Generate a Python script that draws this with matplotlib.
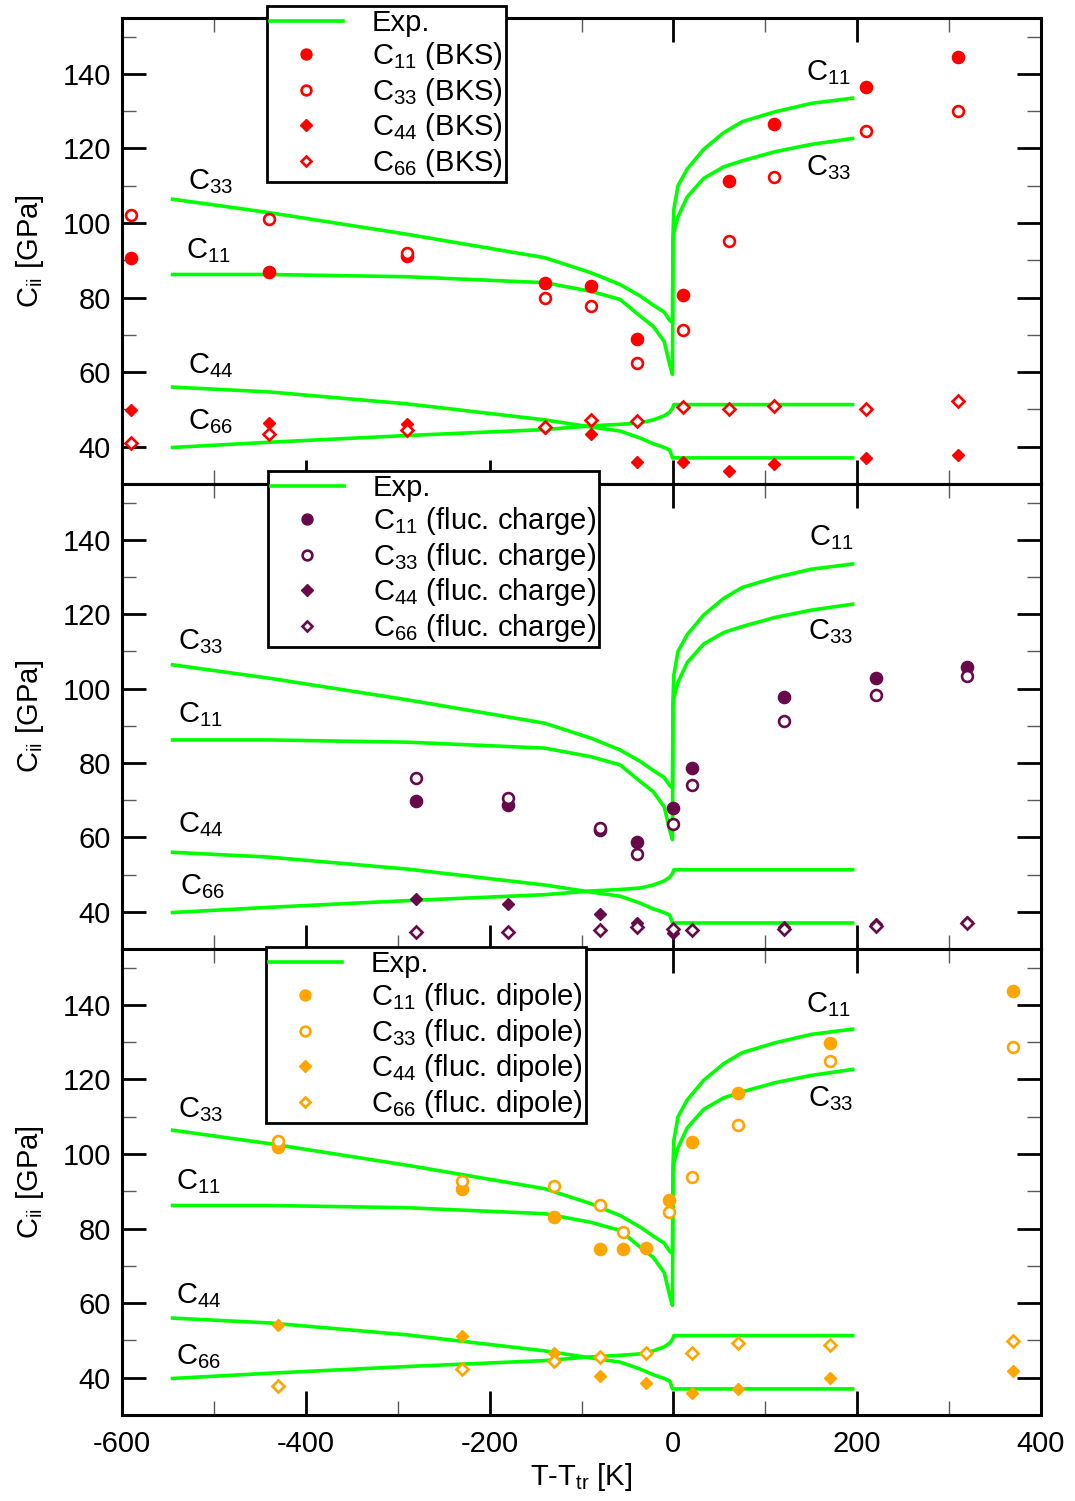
import numpy as np
import matplotlib
matplotlib.use("Agg")
import matplotlib.pyplot as plt
from matplotlib.lines import Line2D
from matplotlib.ticker import MultipleLocator

plt.rcParams['font.family'] = ['Liberation Sans', 'DejaVu Sans']
plt.rcParams['mathtext.fontset'] = 'custom'
plt.rcParams['mathtext.rm'] = 'Liberation Sans'
plt.rcParams['mathtext.it'] = 'Liberation Sans:italic'
plt.rcParams['mathtext.bf'] = 'Liberation Sans:bold'
plt.rcParams['axes.unicode_minus'] = False

# experimental curves (alpha phase, then beta phase)
T_exp = [-545, -440, -290, -140, -90, -58, -36, -22, -10, -4, -1,
         -0.5, 0.5, 5, 15, 33, 55, 75, 110, 150, 195]
C11_exp = [86.2, 86.2, 85.6, 84.0, 81.7, 79.5, 75.0, 72.3, 68.2, 62.0, 59.4,
           96.5, 103.7, 110.0, 114.5, 119.8, 124.3, 127.2, 129.8, 132.1, 133.5]
C33_exp = [106.4, 102.8, 97.0, 90.7, 86.7, 83.5, 80.4, 78.0, 76.1, 73.9, 73.3,
           95.0, 97.5, 101.7, 107.0, 112.0, 115.1, 116.7, 119.1, 121.1, 122.7]
C44_exp = [56.0, 54.7, 51.5, 47.2, 45.3, 44.2, 42.3, 40.8, 39.8, 39.1, 37.0,
           37.0, 37.0, 37.0, 37.0, 37.0, 37.0, 37.0, 37.0, 37.0, 37.0]
C66_exp = [39.8, 41.2, 43.0, 44.6, 45.6, 46.0, 46.4, 47.2, 48.3, 49.3, 50.3,
           50.6, 51.3, 51.3, 51.3, 51.3, 51.3, 51.3, 51.3, 51.3, 51.3]

# BKS
T_bks = [-590, -440, -290, -140, -90, -40, 10, 60, 110, 210, 310]
C11_bks = [90.5, 86.9, 91.2, 84.0, 83.1, 69.0, 80.6, 111.4, 126.5, 136.5, 144.5]
C33_bks = [102.1, 101.0, 92.0, 79.8, 77.7, 62.5, 71.2, 95.2, 112.3, 124.6, 130.1]
C44_bks = [49.8, 46.4, 46.2, 45.0, 43.5, 35.8, 36.0, 33.5, 35.3, 37.1, 37.7]
C66_bks = [41.0, 43.4, 44.6, 45.2, 47.3, 47.0, 50.7, 50.1, 50.8, 50.1, 52.2]

# fluctuating charge
T_chg = [-280, -180, -80, -40, 0, 20, 120, 220, 320]
C11_chg = [69.8, 68.6, 62.0, 58.7, 68.0, 78.6, 97.7, 102.9, 105.8]
C33_chg = [75.9, 70.6, 62.4, 55.6, 63.7, 74.1, 91.4, 98.3, 103.4]
C44_chg = [43.5, 42.0, 39.5, 37.0, 34.4, 35.2, 35.9, 36.6, 37.2]
C66_chg = [34.5, 34.5, 35.2, 35.9, 35.4, 35.0, 35.5, 36.3, 36.9]

# fluctuating dipole
T_dip11 = [-430, -230, -130, -80, -55, -30, -5, 20, 70, 170, 370]
C11_dip = [102.0, 90.7, 83.1, 74.4, 74.4, 74.9, 87.8, 103.3, 116.5, 129.7, 143.8]
T_dip33 = [-430, -230, -130, -80, -55, -5, 20, 70, 170, 370]
C33_dip = [103.5, 92.8, 91.3, 86.3, 79.1, 84.4, 93.8, 107.7, 124.9, 128.6]
T_dipD = [-430, -230, -130, -80, -30, 20, 70, 170, 370]
C44_dip = [54.2, 51.1, 46.6, 40.5, 38.7, 35.9, 37.0, 39.9, 41.9]
C66_dip = [37.7, 42.3, 44.6, 45.6, 46.6, 46.6, 49.3, 48.9, 49.8]

green = '#00ff00'
models = [
    ('BKS', 'red',
     (T_bks, C11_bks), (T_bks, C33_bks), (T_bks, C44_bks), (T_bks, C66_bks)),
    ('fluc. charge', '#670a4a',
     (T_chg, C11_chg), (T_chg, C33_chg), (T_chg, C44_chg), (T_chg, C66_chg)),
    ('fluc. dipole', '#ffa500',
     (T_dip11, C11_dip), (T_dip33, C33_dip), (T_dipD, C44_dip), (T_dipD, C66_dip)),
]

# curve labels: (subscript, T, value) per panel
curve_labels = [
    [('33', -528, 109.1), ('11', -530, 90.7), ('44', -528, 59.8), ('66', -528, 44.6),
     ('11', 144, 138.2), ('33', 144, 112.7)],
    [('33', -539, 110.7), ('11', -539, 91.0), ('44', -539, 61.4), ('66', -537, 44.8),
     ('11', 148, 138.5), ('33', 147, 113.4)],
    [('33', -539, 109.8), ('11', -541, 90.5), ('44', -541, 60.1), ('66', -541, 43.5),
     ('11', 144, 138.0), ('33', 147, 112.9)],
]

W, H = 1075, 1501
fig = plt.figure(figsize=(W / 100, H / 100), dpi=100)

panel_px = [(18, 484), (484, 949), (949, 1415)]
legend_px = [(267, 6), (268, 471), (266, 947)]
fs = 21

for i, (name, col, d11, d33, d44, d66) in enumerate(models):
    top, bot = panel_px[i]
    ax = fig.add_axes([122 / W, 1 - bot / H, 919 / W, (bot - top) / H])

    ax.plot(T_exp, C11_exp, color=green, lw=2.6, zorder=2)
    ax.plot(T_exp, C33_exp, color=green, lw=2.6, zorder=2)
    ax.plot(T_exp, C44_exp, color=green, lw=2.6, zorder=2)
    ax.plot(T_exp, C66_exp, color=green, lw=2.6, zorder=2)

    ax.plot(d11[0], d11[1], ls='none', marker='o', ms=8.8, mfc=col, mec=col, mew=1, zorder=3)
    ax.plot(d33[0], d33[1], ls='none', marker='o', ms=7.8, mfc='white', mec=col, mew=1.9, zorder=3)
    ax.plot(d44[0], d44[1], ls='none', marker='D', ms=6.6, mfc=col, mec=col, mew=1, zorder=3)
    ax.plot(d66[0], d66[1], ls='none', marker='D', ms=5.8, mfc='white', mec=col, mew=1.9, zorder=3)

    for sub, tx, ty in curve_labels[i]:
        ax.text(tx, ty, 'C$_{\\mathrm{%s}}$' % sub, fontsize=fs, va='baseline', ha='left')

    ax.set_xlim(-600, 400)
    ax.set_ylim(30, 155)
    ax.xaxis.set_major_locator(MultipleLocator(200))
    ax.xaxis.set_minor_locator(MultipleLocator(100))
    ax.set_yticks([40, 60, 80, 100, 120, 140])
    ax.yaxis.set_minor_locator(MultipleLocator(10))
    ax.tick_params(which='both', direction='in', top=True, right=True)
    ax.tick_params(which='major', length=17, width=2.0, labelsize=fs, pad=8)
    ax.tick_params(which='minor', length=10, width=1.0, color='0.35')
    ax.tick_params(axis='x', which='major', pad=11)
    for s in ax.spines.values():
        s.set_linewidth(2.2)
    if i < 2:
        ax.tick_params(axis='x', labelbottom=False)
    else:
        ax.set_xlabel('T-T$_{\\mathrm{tr}}$ [K]', fontsize=fs, labelpad=2)
    ax.set_ylabel('C$_{\\mathrm{ii}}$ [GPa]', fontsize=fs)
    ax.yaxis.set_label_coords(-0.083, 0.5)

    handles = [
        Line2D([], [], color=green, lw=2.6),
        Line2D([], [], ls='none', marker='o', ms=8.8, mfc=col, mec=col, mew=1),
        Line2D([], [], ls='none', marker='o', ms=7.8, mfc='white', mec=col, mew=1.9),
        Line2D([], [], ls='none', marker='D', ms=6.6, mfc=col, mec=col, mew=1),
        Line2D([], [], ls='none', marker='D', ms=5.8, mfc='white', mec=col, mew=1.9),
    ]
    labels = ['Exp.'] + ['C$_{\\mathrm{%s}}$ (%s)' % (s, name) for s in ['11', '33', '44', '66']]
    lx, ly = legend_px[i]
    leg = ax.legend(handles, labels, loc='upper left', bbox_to_anchor=(lx / W, 1 - ly / H),
                    bbox_transform=fig.transFigure, fontsize=fs, frameon=True, fancybox=False,
                    edgecolor='black', framealpha=1, borderpad=0.1, borderaxespad=0,
                    handlelength=2.5, handletextpad=1.0, labelspacing=0.12, markerscale=0.9)
    leg.get_frame().set_linewidth(2.0)

fig.savefig('out.png', dpi=100)
